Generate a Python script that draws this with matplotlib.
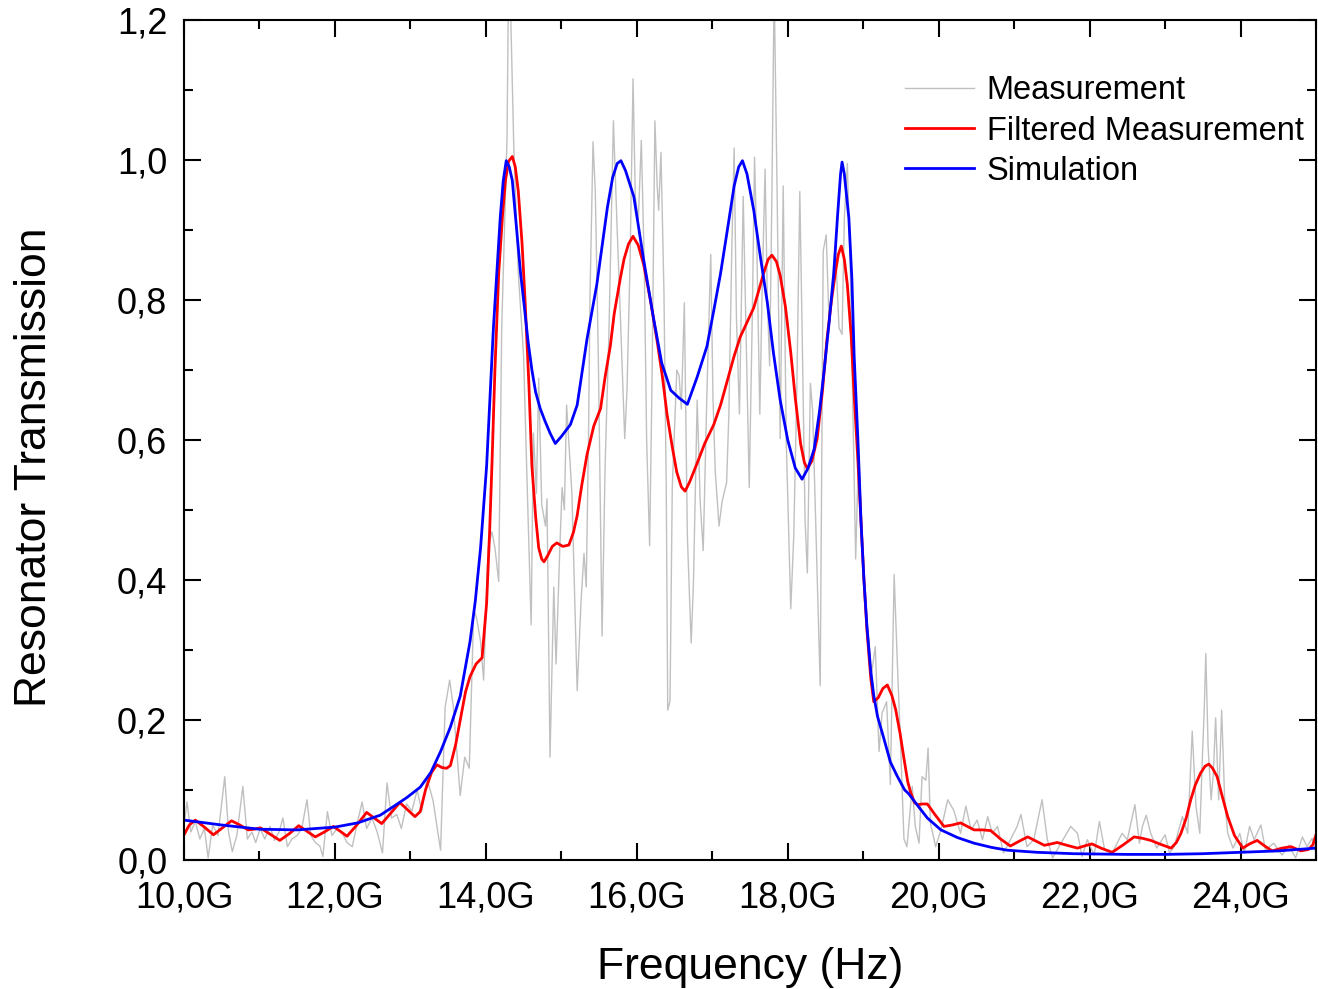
import matplotlib
matplotlib.use("Agg")
import matplotlib.pyplot as plt
from matplotlib.ticker import MultipleLocator, FuncFormatter

plt.rcParams["font.family"] = ["Liberation Sans", "DejaVu Sans"]

# Measurement (raw), frequency in GHz
meas_f = [
    10.00, 10.04, 10.09, 10.15, 10.21, 10.27, 10.32, 10.38, 10.45, 10.54,
    10.59, 10.64, 10.70, 10.78, 10.84, 10.90, 10.95, 11.01, 11.07, 11.14,
    11.20, 11.26, 11.31, 11.37, 11.43, 11.50, 11.56, 11.63, 11.68, 11.74,
    11.80, 11.84, 11.90, 11.96, 12.03, 12.09, 12.16, 12.23, 12.29, 12.36,
    12.42, 12.49, 12.56, 12.63, 12.69, 12.75, 12.82, 12.88, 12.95, 13.02,
    13.09, 13.15, 13.22, 13.30, 13.40, 13.46, 13.52, 13.57, 13.66, 13.72,
    13.78, 13.84, 13.88, 13.93, 13.97, 14.03, 14.08, 14.12, 14.17, 14.21,
    14.28, 14.30, 14.32, 14.37, 14.43, 14.50, 14.54, 14.60, 14.63, 14.67,
    14.70, 14.74, 14.79, 14.81, 14.85, 14.90, 14.93, 14.98, 15.01, 15.04,
    15.07, 15.14, 15.21, 15.26, 15.30, 15.33, 15.36, 15.38, 15.42, 15.45,
    15.49, 15.54, 15.58, 15.63, 15.69, 15.74, 15.76, 15.84, 15.87, 15.91,
    15.95, 15.98, 16.02, 16.06, 16.10, 16.13, 16.17, 16.20, 16.24, 16.27,
    16.29, 16.32, 16.36, 16.39, 16.41, 16.44, 16.47, 16.53, 16.56, 16.59,
    16.63, 16.67, 16.72, 16.75, 16.80, 16.84, 16.88, 16.93, 16.98, 17.01,
    17.04, 17.09, 17.13, 17.19, 17.22, 17.26, 17.29, 17.32, 17.36, 17.41,
    17.45, 17.49, 17.53, 17.56, 17.59, 17.63, 17.66, 17.70, 17.73, 17.76,
    17.79, 17.82, 17.86, 17.90, 17.94, 17.98, 18.04, 18.08, 18.12, 18.16,
    18.19, 18.23, 18.26, 18.30, 18.33, 18.38, 18.43, 18.47, 18.51, 18.55,
    18.58, 18.63, 18.68, 18.72, 18.75, 18.79, 18.83, 18.90, 18.94, 18.98,
    19.02, 19.07, 19.11, 19.16, 19.21, 19.25, 19.31, 19.36, 19.41, 19.45,
    19.50, 19.54, 19.58, 19.65, 19.69, 19.74, 19.78, 19.83, 19.86, 19.89,
    19.96, 20.03, 20.12, 20.20, 20.29, 20.36, 20.43, 20.51, 20.58, 20.65,
    20.71, 20.78, 20.86, 20.95, 21.04, 21.09, 21.17, 21.26, 21.37, 21.44,
    21.51, 21.62, 21.75, 21.84, 21.90, 21.97, 22.06, 22.13, 22.20, 22.30,
    22.43, 22.50, 22.60, 22.66, 22.70, 22.75, 22.81, 22.89, 23.00, 23.06,
    23.12, 23.23, 23.30, 23.36, 23.41, 23.46, 23.49, 23.52, 23.54, 23.57,
    23.61, 23.64, 23.67, 23.71, 23.75, 23.79, 23.83, 23.90, 23.99, 24.05,
    24.12, 24.18, 24.27, 24.33, 24.44, 24.55, 24.64, 24.73, 24.82, 24.88,
    24.95, 25.00,
]
meas_t = [
    0.050, 0.083, 0.040, 0.055, 0.030, 0.045, 0.003, 0.050, 0.035, 0.119,
    0.040, 0.012, 0.035, 0.105, 0.030, 0.040, 0.025, 0.045, 0.030, 0.048,
    0.028, 0.040, 0.060, 0.019, 0.030, 0.035, 0.045, 0.086, 0.035, 0.025,
    0.020, 0.005, 0.069, 0.035, 0.045, 0.040, 0.025, 0.019, 0.050, 0.083,
    0.045, 0.060, 0.040, 0.010, 0.110, 0.060, 0.065, 0.045, 0.080, 0.070,
    0.100, 0.070, 0.116, 0.085, 0.014, 0.218, 0.257, 0.218, 0.092, 0.147,
    0.131, 0.359, 0.344, 0.312, 0.257, 0.446, 0.469, 0.446, 0.398, 0.760,
    1.030, 1.250, 1.250, 1.018, 0.838, 0.720, 0.563, 0.336, 0.610, 0.524,
    0.688, 0.508, 0.477, 0.516, 0.147, 0.390, 0.280, 0.446, 0.532, 0.500,
    0.650, 0.524, 0.242, 0.367, 0.438, 0.390, 0.602, 0.806, 1.026, 0.955,
    0.720, 0.320, 0.563, 0.750, 1.056, 0.900, 0.844, 0.602, 0.671, 0.850,
    1.116, 0.948, 0.914, 1.028, 0.844, 0.602, 0.449, 0.671, 1.056, 0.963,
    0.928, 1.011, 0.810, 0.532, 0.214, 0.227, 0.532, 0.700, 0.692, 0.644,
    0.796, 0.463, 0.310, 0.393, 0.657, 0.512, 0.442, 0.671, 0.865, 0.657,
    0.554, 0.477, 0.512, 0.539, 0.637, 0.879, 1.017, 0.775, 0.637, 0.948,
    0.741, 0.532, 0.775, 1.004, 0.879, 0.637, 0.810, 0.987, 0.800, 0.706,
    0.948, 1.250, 0.948, 0.602, 0.963, 0.600, 0.359, 0.463, 0.671, 0.955,
    0.760, 0.485, 0.410, 0.681, 0.642, 0.446, 0.249, 0.870, 0.893, 0.760,
    0.814, 0.877, 0.760, 0.751, 0.917, 0.995, 0.838, 0.430, 0.587, 0.485,
    0.367, 0.320, 0.265, 0.305, 0.155, 0.210, 0.226, 0.108, 0.408, 0.289,
    0.150, 0.030, 0.019, 0.105, 0.048, 0.024, 0.119, 0.114, 0.160, 0.053,
    0.019, 0.043, 0.086, 0.071, 0.038, 0.077, 0.043, 0.057, 0.029, 0.062,
    0.038, 0.048, 0.010, 0.029, 0.048, 0.065, 0.019, 0.029, 0.086, 0.029,
    0.003, 0.024, 0.048, 0.038, 0.005, 0.029, 0.007, 0.055, 0.014, 0.010,
    0.038, 0.029, 0.079, 0.024, 0.048, 0.064, 0.038, 0.017, 0.036, 0.010,
    0.019, 0.062, 0.038, 0.184, 0.076, 0.038, 0.133, 0.219, 0.295, 0.162,
    0.086, 0.124, 0.203, 0.086, 0.214, 0.086, 0.038, 0.017, 0.038, 0.010,
    0.048, 0.029, 0.050, 0.014, 0.024, 0.007, 0.021, 0.003, 0.033, 0.019,
    0.031, 0.010,
]

# Filtered measurement
filt_f = [
    10.00, 10.07, 10.15, 10.27, 10.39, 10.51, 10.63, 10.74, 10.85, 10.93,
    11.01, 11.14, 11.27, 11.40, 11.52, 11.63, 11.74, 11.86, 11.98, 12.07,
    12.16, 12.29, 12.42, 12.52, 12.62, 12.74, 12.86, 12.96, 13.06, 13.13,
    13.20, 13.28, 13.35, 13.42, 13.48, 13.53, 13.60, 13.66, 13.73, 13.79,
    13.87, 13.95, 14.01, 14.05, 14.08, 14.12, 14.17, 14.22, 14.26, 14.30,
    14.35, 14.39, 14.43, 14.48, 14.52, 14.57, 14.61, 14.66, 14.70, 14.74,
    14.77, 14.82, 14.88, 14.94, 15.02, 15.10, 15.16, 15.21, 15.27, 15.34,
    15.43, 15.52, 15.58, 15.65, 15.70, 15.78, 15.83, 15.89, 15.95, 16.02,
    16.09, 16.18, 16.27, 16.34, 16.40, 16.47, 16.53, 16.59, 16.64, 16.70,
    16.80, 16.90, 17.02, 17.11, 17.20, 17.29, 17.37, 17.46, 17.55, 17.62,
    17.68, 17.74, 17.79, 17.85, 17.90, 17.97, 18.04, 18.10, 18.17, 18.22,
    18.26, 18.32, 18.39, 18.46, 18.52, 18.58, 18.63, 18.67, 18.71, 18.75,
    18.79, 18.84, 18.88, 18.93, 18.97, 19.01, 19.05, 19.10, 19.14, 19.20,
    19.26, 19.32, 19.38, 19.43, 19.49, 19.54, 19.59, 19.63, 19.68, 19.72,
    19.78, 19.85, 19.95, 20.07, 20.18, 20.29, 20.38, 20.47, 20.58, 20.69,
    20.82, 20.95, 21.07, 21.18, 21.29, 21.40, 21.49, 21.57, 21.70, 21.84,
    21.93, 22.03, 22.15, 22.30, 22.45, 22.59, 22.70, 22.81, 22.95, 23.08,
    23.15, 23.21, 23.28, 23.34, 23.40, 23.47, 23.53, 23.58, 23.63, 23.69,
    23.76, 23.83, 23.92, 24.03, 24.12, 24.22, 24.32, 24.42, 24.55, 24.67,
    24.80, 24.90, 24.96, 25.00,
]
filt_t = [
    0.036, 0.050, 0.057, 0.047, 0.036, 0.046, 0.056, 0.050, 0.043, 0.044,
    0.046, 0.037, 0.028, 0.038, 0.049, 0.041, 0.033, 0.040, 0.048, 0.041,
    0.034, 0.050, 0.068, 0.060, 0.052, 0.067, 0.082, 0.072, 0.062, 0.069,
    0.100, 0.125, 0.136, 0.132, 0.131, 0.135, 0.165, 0.200, 0.240, 0.262,
    0.280, 0.289, 0.367, 0.470, 0.563, 0.700, 0.838, 0.920, 0.971, 0.998,
    1.005, 0.990, 0.955, 0.880, 0.798, 0.680, 0.563, 0.490, 0.446, 0.430,
    0.426, 0.435, 0.448, 0.453, 0.448, 0.450, 0.468, 0.492, 0.535, 0.579,
    0.620, 0.645, 0.690, 0.735, 0.780, 0.830, 0.858, 0.880, 0.891, 0.878,
    0.851, 0.800, 0.741, 0.690, 0.637, 0.590, 0.554, 0.533, 0.527, 0.540,
    0.567, 0.595, 0.622, 0.650, 0.685, 0.720, 0.747, 0.768, 0.789, 0.815,
    0.838, 0.858, 0.864, 0.855, 0.835, 0.790, 0.725, 0.660, 0.595, 0.568,
    0.559, 0.570, 0.602, 0.670, 0.744, 0.800, 0.838, 0.865, 0.877, 0.858,
    0.822, 0.750, 0.665, 0.570, 0.485, 0.400, 0.328, 0.260, 0.226, 0.232,
    0.245, 0.250, 0.235, 0.215, 0.180, 0.145, 0.112, 0.096, 0.082, 0.079,
    0.080, 0.080, 0.065, 0.048, 0.050, 0.053, 0.048, 0.043, 0.043, 0.042,
    0.030, 0.020, 0.027, 0.033, 0.027, 0.021, 0.023, 0.025, 0.021, 0.017,
    0.020, 0.023, 0.017, 0.011, 0.022, 0.033, 0.031, 0.028, 0.022, 0.017,
    0.025, 0.038, 0.060, 0.086, 0.107, 0.124, 0.134, 0.137, 0.131, 0.119,
    0.090, 0.062, 0.035, 0.017, 0.023, 0.028, 0.020, 0.013, 0.017, 0.019,
    0.013, 0.015, 0.022, 0.036,
]

# Simulation
sim_f = [
    10.00, 10.50, 11.00, 11.50, 12.00, 12.30, 12.60, 12.77, 12.95, 13.13,
    13.27, 13.40, 13.53, 13.66, 13.79, 13.86, 13.93, 14.01, 14.10, 14.19,
    14.23, 14.27, 14.31, 14.35, 14.40, 14.46, 14.51, 14.56, 14.61, 14.66,
    14.72, 14.78, 14.85, 14.92, 15.00, 15.12, 15.21, 15.34, 15.47, 15.61,
    15.68, 15.74, 15.79, 15.85, 15.96, 16.09, 16.22, 16.33, 16.45, 16.56,
    16.67, 16.80, 16.93, 17.02, 17.11, 17.20, 17.29, 17.35, 17.40, 17.46,
    17.55, 17.64, 17.73, 17.81, 17.90, 18.00, 18.10, 18.19, 18.27, 18.35,
    18.42, 18.48, 18.55, 18.61, 18.66, 18.70, 18.72, 18.75, 18.81, 18.85,
    18.88, 18.93, 18.97, 19.01, 19.05, 19.10, 19.14, 19.19, 19.27, 19.36,
    19.45, 19.55, 19.60, 19.72, 19.85, 20.03, 20.25, 20.47, 20.70, 20.91,
    21.30, 21.79, 22.50, 23.00, 23.50, 24.00, 24.50, 25.00,
]
sim_t = [
    0.057, 0.050, 0.044, 0.043, 0.047, 0.053, 0.064, 0.076, 0.089, 0.104,
    0.125, 0.155, 0.190, 0.234, 0.312, 0.370, 0.446, 0.563, 0.760, 0.917,
    0.970, 0.999, 0.990, 0.971, 0.910, 0.838, 0.790, 0.740, 0.700, 0.668,
    0.645, 0.628, 0.610, 0.595, 0.605, 0.622, 0.650, 0.744, 0.822, 0.932,
    0.975, 0.995, 0.999, 0.985, 0.948, 0.858, 0.775, 0.710, 0.671, 0.660,
    0.651, 0.690, 0.734, 0.785, 0.838, 0.900, 0.963, 0.990, 0.999, 0.980,
    0.928, 0.860, 0.796, 0.725, 0.657, 0.600, 0.560, 0.544, 0.560, 0.587,
    0.640, 0.697, 0.770, 0.838, 0.920, 0.980, 0.997, 0.980, 0.917, 0.830,
    0.720, 0.600, 0.485, 0.400, 0.333, 0.270, 0.235, 0.205, 0.175, 0.140,
    0.120, 0.100, 0.095, 0.078, 0.060, 0.043, 0.032, 0.024, 0.018, 0.014,
    0.011, 0.009, 0.008, 0.008, 0.009, 0.011, 0.013, 0.017,
]

fig = plt.figure(figsize=(13.18, 9.89), dpi=100)
ax = fig.add_axes([184 / 1318, 129 / 989, 1132 / 1318, 840 / 989])

ax.plot(meas_f, meas_t, color="#c0c0c0", linewidth=1.0, label="Measurement")
ax.plot(filt_f, filt_t, color="red", linewidth=2.0, label="Filtered Measurement")
ax.plot(sim_f, sim_t, color="blue", linewidth=2.0, label="Simulation")

ax.set_xlim(10, 25)
ax.set_ylim(0, 1.2)

ax.xaxis.set_major_locator(MultipleLocator(2))
ax.xaxis.set_minor_locator(MultipleLocator(1))
ax.yaxis.set_major_locator(MultipleLocator(0.2))
ax.yaxis.set_minor_locator(MultipleLocator(0.1))
ax.xaxis.set_major_formatter(FuncFormatter(lambda v, p: f"{v:.1f}G".replace(".", ",")))
ax.yaxis.set_major_formatter(FuncFormatter(lambda v, p: f"{v:.1f}".replace(".", ",")))

ax.tick_params(which="both", direction="in", top=True, right=True, width=1.5)
ax.tick_params(which="major", length=12, labelsize=26)
ax.tick_params(axis="x", which="major", pad=15)
ax.tick_params(axis="y", which="major", pad=12)
ax.tick_params(which="minor", length=6.5)
for s in ax.spines.values():
    s.set_linewidth(1.5)

ax.set_xlabel("Frequency (Hz)", fontsize=32)
ax.set_ylabel("Resonator Transmission", fontsize=32)
ax.xaxis.set_label_coords(0.5, -0.103)
ax.yaxis.set_label_coords(-0.114, 0.468)

ax.legend(loc="upper left", bbox_to_anchor=(0.637, 0.934), frameon=False,
          fontsize=23.5, handlelength=2.1, handletextpad=0.4,
          labelspacing=0.28, borderpad=0, borderaxespad=0)

fig.savefig("out.png", dpi=100)
